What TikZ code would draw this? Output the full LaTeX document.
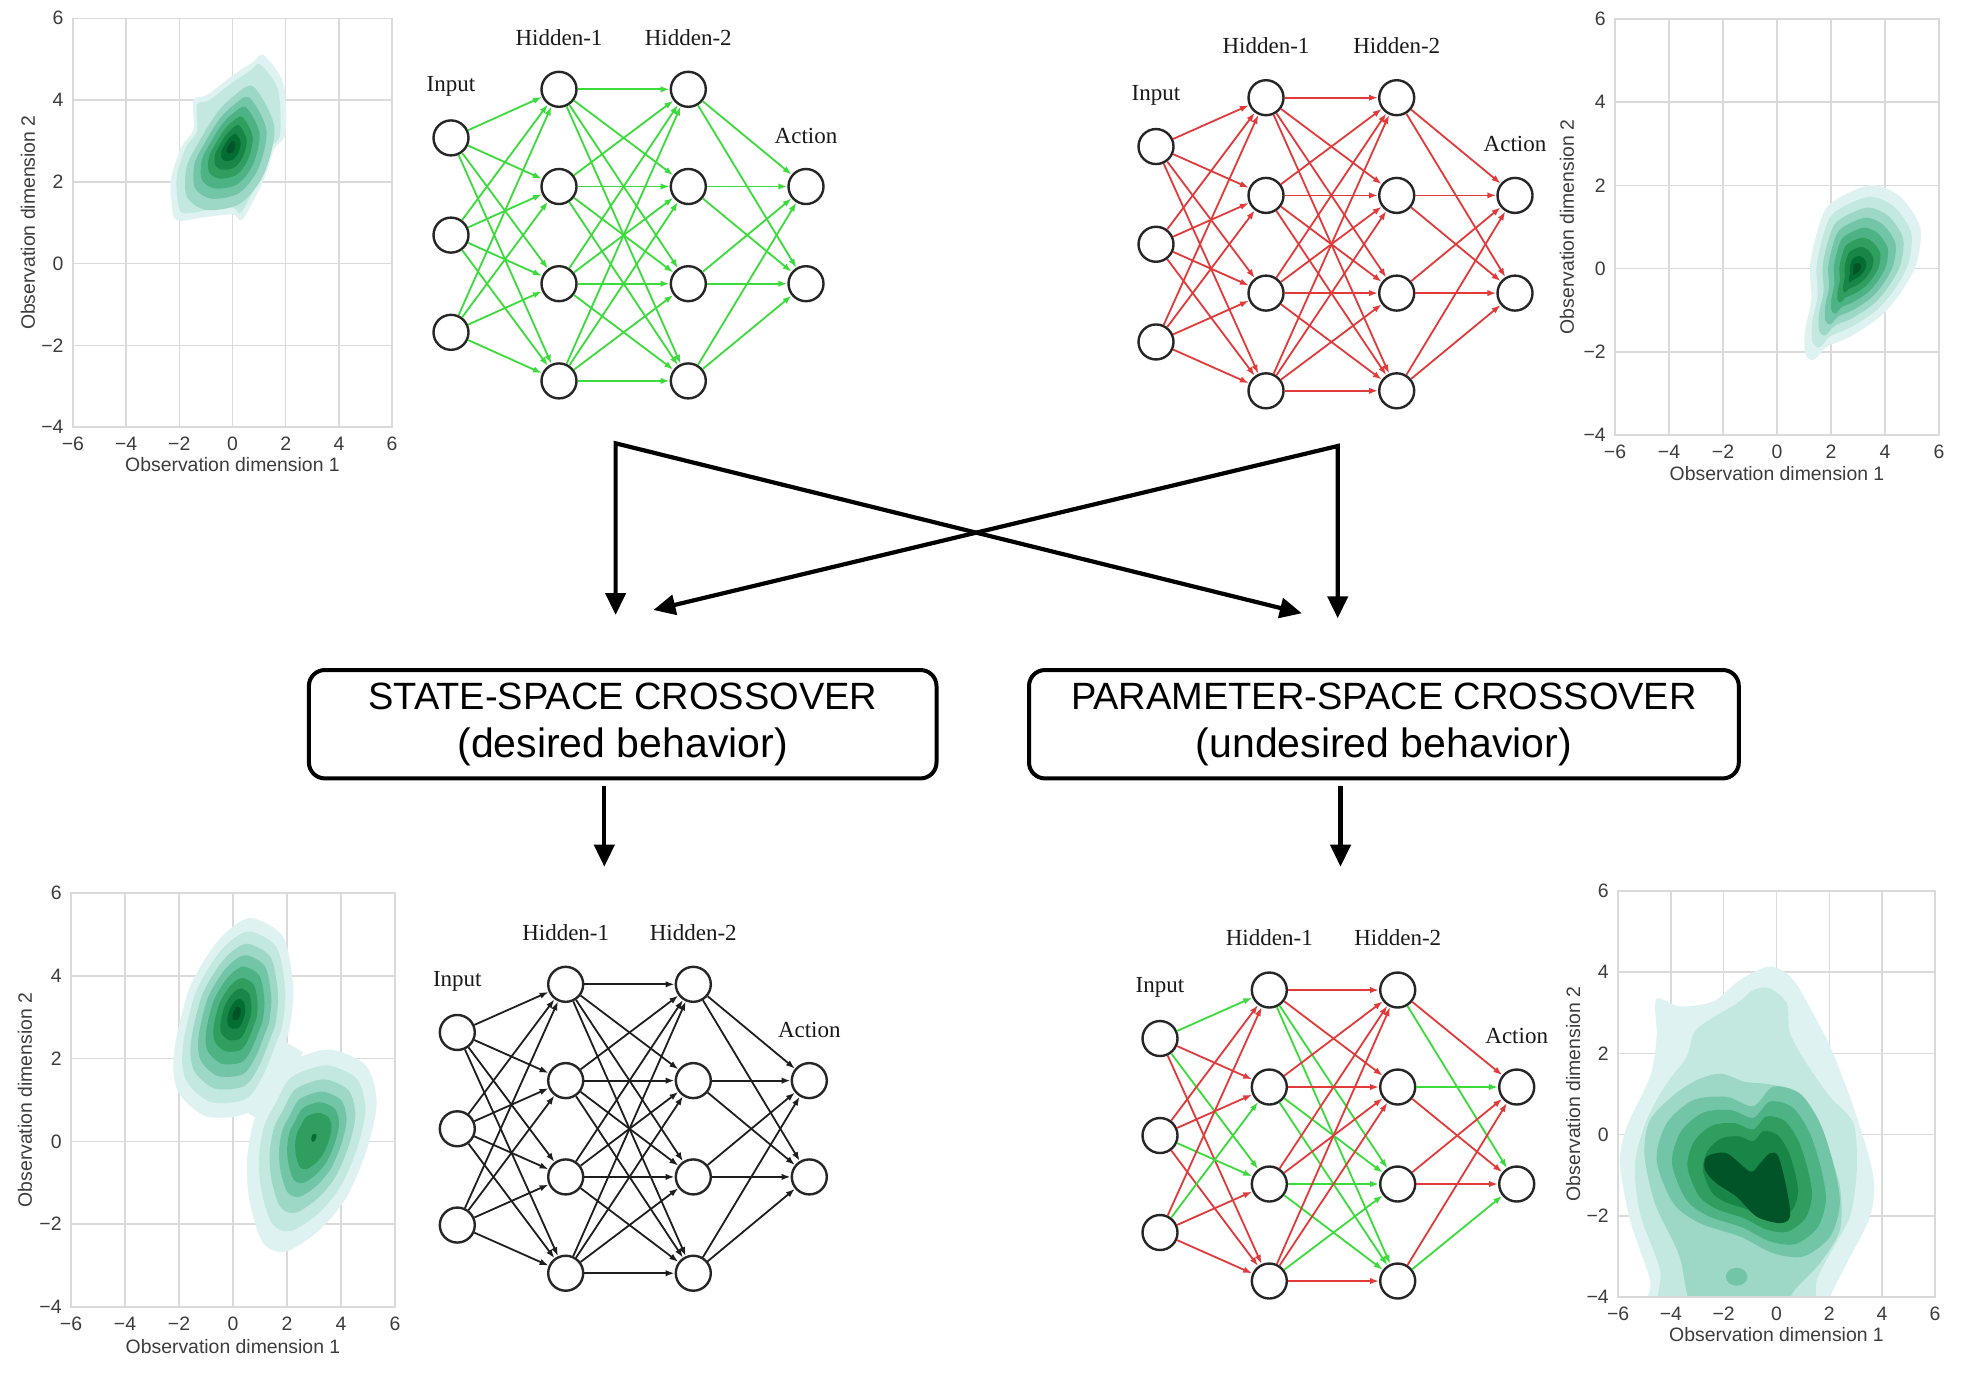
\documentclass[tikz,border=0pt]{standalone}
\usepackage{fontspec}
\setmainfont{Liberation Serif}
\newfontfamily\arialf{Liberation Sans}
\usetikzlibrary{arrows.meta}
\definecolor{k1}{HTML}{DFF2F2}
\definecolor{k2}{HTML}{C3E8DF}
\definecolor{k3}{HTML}{9DD7C6}
\definecolor{k4}{HTML}{73C5A8}
\definecolor{k5}{HTML}{4DB384}
\definecolor{k6}{HTML}{2F9E5F}
\definecolor{k7}{HTML}{178646}
\definecolor{k8}{HTML}{036E32}
\definecolor{k9}{HTML}{005427}
\definecolor{gridc}{HTML}{DADADA}
\definecolor{axtext}{HTML}{3C3C3C}
\definecolor{eg}{HTML}{3ADB3A}
\definecolor{er}{HTML}{E23A3A}
\definecolor{ek}{HTML}{1E1E1E}
\tikzset{
  gridline/.style={draw=gridc, line width=0.75pt},
  ticklbl/.style={font=\arialf\fontsize{9.7}{11}\selectfont, text=axtext, inner sep=0pt},
  axlbl/.style={font=\arialf\fontsize{9.7}{11}\selectfont, text=axtext, inner sep=0pt},
  neuron/.style={circle, draw=black!85, line width=1.2pt, fill=white, minimum size=17.5pt, inner sep=0pt},
  netlbl/.style={font=\fontsize{11.5}{13}\selectfont, text=black!90, inner sep=0pt},
  edge/.style={line width=0.9pt, -{Latex[length=4.5pt,width=3.2pt]}},
  bigarrow/.style={line width=2.1pt, line join=miter, {Triangle[length=11pt,width=10pt]}-{Triangle[length=11pt,width=10pt]}},
  downarrow/.style={line width=2.1pt, -{Triangle[length=11pt,width=10pt]}},
  crossbox/.style={draw, line width=2pt, rounded corners=8pt, align=center, inner sep=0pt,
    font=\arialf\fontsize{19}{24.2}\selectfont},
}
\newcommand\plotgrid{%
  \foreach \g in {-4,-2,0,2,4} \draw[gridline] (\g,-4) -- (\g,6);
  \foreach \g in {-2,0,2,4} \draw[gridline] (-6,\g) -- (6,\g);
}
\newcommand\plotframe[3]{%
  \draw[gridline] (-6,-4) rectangle (6,6);
  \foreach \v/\t [count=\k] in {-6/−6,-4/−4,-2/−2,0/0,2/2,4/4,6/6}
    \node[ticklbl] (#1x\k) at ([yshift=-8.3pt]\v,-4) {\t};
  \foreach \v/\t [count=\k] in {-4/−4,-2/−2,0/0,2/2,4/4,6/6}
    \node[ticklbl, anchor=east] (#1y\k) at ([xshift=-4.5pt]-6,\v) {\t};
  \node[axlbl] (#1xl) at ([yshift=-#2]0,-4) {Observation dimension 1};
  \node[axlbl, rotate=90] (#1yl) at ([xshift=-#3]-6,1) {Observation dimension 2};
}
\newcommand\kde[4]{%
  \foreach \ks/\kc in {#3}
    \fill[fill=\kc, shift={(#1,#2)}, scale=\ks, shift={({-1*(#1)},{-1*(#2)})}]
      plot[smooth cycle] coordinates {#4};
}
\newcommand\netnodes[7]{%
  \foreach \j in {1,...,4} {
    \node[neuron] (#1h\j) at (#3, {#6+(\j-1)*#7}) {};
    \node[neuron] (#1g\j) at (#4, {#6+(\j-1)*#7}) {};
  }
  \foreach \j in {1,2,3} \node[neuron] (#1i\j) at (#2, {#6+(\j-0.5)*#7}) {};
  \foreach \j in {1,2} \node[neuron] (#1a\j) at (#5, {#6+\j*#7}) {};
  \node[netlbl] (#1li) at (#2, {#6+0.5*#7-51}) {Input};
  \node[netlbl] (#1lh) at (#3, {#6-52}) {Hidden-1};
  \node[netlbl] (#1lg) at (#4, {#6-52}) {Hidden-2};
  \node[netlbl] (#1la) at (#5, {#6+#7-51}) {Action};
}
\newcommand\netedges[2]{%
  \foreach \ea in {1,2,3} \foreach \eb in {1,...,4} \draw[edge, draw=#2] (#1i\ea) -- (#1h\eb);
  \foreach \ea in {1,...,4} \foreach \eb in {1,...,4} \draw[edge, draw=#2] (#1h\ea) -- (#1g\eb);
  \foreach \ea in {1,...,4} \foreach \eb in {1,2} \draw[edge, draw=#2] (#1g\ea) -- (#1a\eb);
}
\begin{document}
\begin{tikzpicture}[x=0.5pt,y=-0.5pt]
\useasboundingbox[fill=white] (0,0) rectangle (1968,1372);

% ---------- top-left plot ----------
\begin{scope}[shift={(232.5,263.5)}, x={(13.3pt,0pt)}, y={(0pt,20.435pt)}]
  \plotgrid
  \kde{-0.1}{2.85}{1/k1,.9/k2}
    {(1.16,5.1) (1.91,4.41) (2.0,3.19) (1.57,2.8) (1.19,2.07) (0.55,1.25) (0.3,1.05) (0.02,1.2) (-0.97,1.14) (-2.1,1.06) (-2.3,1.55) (-2.3,2.12) (-1.92,2.86) (-1.47,3.27) (-1.47,4.0) (-0.97,4.12) (0.02,4.61) (0.77,4.93)}
  \kde{-0.05}{2.85}{1/k3,.82/k4,.66/k5,.5/k6,.36/k7,.22/k8,.1/k9}
    {(0.78,4.33) (1.57,3.35) (1.19,2.2) (0.3,1.47) (-0.97,1.31) (-1.72,1.64) (-1.72,2.37) (-1.22,3.02) (-0.6,3.67) (0.02,4.08)}
  \plotframe{TL}{19pt}{22.5pt}
\end{scope}

% ---------- top-right plot ----------
\begin{scope}[shift={(1777,268.6)}, x={(13.5pt,0pt)}, y={(0pt,20.8pt)}]
  \plotgrid
  \kde{2.95}{0.0}{1/k1,.86/k2,.73/k3,.61/k4,.49/k5,.37/k6,.26/k7,.15/k8,.07/k9}
    {(3.57,2.01) (4.56,1.73) (5.3,1.0) (5.17,0.13) (4.56,-0.6) (3.81,-1.16) (2.7,-1.64) (1.84,-1.88) (1.35,-2.2) (1.04,-2.04) (1.04,-1.48) (1.27,-0.75) (1.22,0.05) (1.47,0.85) (1.84,1.47) (2.58,1.8)}
  \plotframe{TR}{19.5pt}{24pt}
\end{scope}

% ---------- bottom-left plot ----------
\begin{scope}[shift={(233,1141.4)}, x={(13.5pt,0pt)}, y={(0pt,20.7pt)}]
  \plotgrid
  \kde{0.14}{3.1}{1/k1}
    {(0.75,5.39) (1.86,4.94) (2.23,3.74) (2.11,2.78) (1.86,2.3) (1.25,1.32) (0.51,0.68) (-0.97,0.6) (-1.96,1.12) (-2.21,1.72) (-2.09,2.53) (-1.59,3.74) (-0.73,4.7) (0,5.19)}
  \kde{3.0}{0.1}{1/k1}
    {(3.72,2.21) (4.95,1.81) (5.32,0.92) (4.95,-0.21) (4.21,-1.34) (3.22,-2.13) (1.97,-2.66) (1.12,-2.46) (0.63,-1.5) (0.51,-0.53) (0.75,0.44) (1.25,1.08) (1.86,1.8) (2.73,2.1)}
  \fill[k1] (1.7,2.5) -- (2.6,2.15) -- (1.0,0.5) -- (0.3,0.8) -- cycle;
  \kde{0.14}{3.1}{.86/k2,.73/k3,.61/k4,.49/k5,.37/k6,.26/k7,.15/k8,.07/k9}
    {(0.75,5.39) (1.86,4.94) (2.23,3.74) (2.11,2.78) (1.86,2.3) (1.25,1.32) (0.51,0.68) (-0.97,0.6) (-1.96,1.12) (-2.21,1.72) (-2.09,2.53) (-1.59,3.74) (-0.73,4.7) (0,5.19)}
  \kde{3.0}{0.1}{.82/k2,.66/k3,.52/k4,.4/k5,.28/k6,.04/k8}
    {(3.72,2.21) (4.95,1.81) (5.32,0.92) (4.95,-0.21) (4.21,-1.34) (3.22,-2.13) (1.97,-2.66) (1.12,-2.46) (0.63,-1.5) (0.51,-0.53) (0.75,0.44) (1.25,1.08) (1.86,1.8) (2.73,2.1)}
  \plotframe{BL}{20pt}{23pt}
\end{scope}

% ---------- bottom-right plot ----------
\begin{scope}[shift={(1776.5,1134.6)}, x={(13.2pt,0pt)}, y={(0pt,20.3pt)}]
  \plotgrid
  \begin{scope}
    \clip (-6,-4) rectangle (6,6);
    \fill[k1] plot[smooth cycle] coordinates {(-4.48,3.36) (-3.66,3.16) (-2.39,3.28) (-1.38,3.81) (-0.25,4.14) (0.64,3.81) (1.52,2.82) (2.15,2.0) (3.04,0.44) (3.67,-1.04) (3.54,-2.02) (2.66,-3.17) (2.03,-4.0) (1.9,-4.6) (-4.54,-4.6) (-4.79,-3.58) (-5.55,-2.1) (-5.93,-0.7) (-5.67,0.2) (-4.79,1.43) (-4.54,2.41) (-4.6,3.1)};
    \fill[k2] plot[smooth cycle] coordinates {(-3.4,1.92) (-3.02,2.6) (-1.51,3.23) (-0.88,3.56) (-0.25,3.6) (0.39,3.23) (0.51,2.5) (1.14,1.75) (2.03,0.93) (2.91,0.28) (3.04,-0.87) (2.78,-2.02) (2.03,-2.92) (1.52,-3.58) (1.0,-4.6) (-4.16,-4.6) (-4.41,-3.33) (-5.17,-1.94) (-5.36,-0.71) (-4.92,0.36) (-4.16,1.26)};
    \fill[k3] plot[smooth cycle] coordinates {(-5.0,-0.5) (-4.8,0.35) (-3.9,0.97) (-3.0,1.35) (-2.1,1.5) (-1.2,1.3) (-0.4,1.25) (0.5,1.1) (1.3,0.5) (1.9,-0.3) (2.4,-1.28) (2.4,-2.35) (1.6,-3.2) (0.6,-3.9) (0.2,-4.6) (-2.9,-4.6) (-3.7,-2.95) (-4.6,-1.7)};
    \fill[k4] (-1.51,-3.5) ellipse [x radius=0.41, y radius=0.22];
    \kde{-0.9}{-1.1}{1/k4,.84/k5,.68/k6,.52/k7}
      {(-4.54,-0.63) (-4.16,0.28) (-3.15,0.85) (-1.89,0.93) (-0.88,0.7) (-0.13,1.18) (0.89,1.01) (1.65,0.28) (2.15,-0.71) (2.4,-1.69) (2.03,-2.51) (1.02,-3.0) (-0.13,-2.92) (-1.38,-2.51) (-2.9,-2.18) (-3.91,-1.69)}
    \fill[k9] plot[smooth cycle] coordinates {(-2.64,-0.54) (-1.89,-0.46) (-1.0,-0.91) (-0.63,-0.71) (-0.25,-0.46) (0.07,-0.54) (0.39,-1.36) (0.51,-2.02) (0.13,-2.18) (-0.75,-2.02) (-1.51,-1.53) (-2.27,-1.2) (-2.71,-0.87)};
  \end{scope}
  \plotframe{BR}{19pt}{22.5pt}
\end{scope}

% ---------- networks ----------
\netnodes{A}{451}{559}{688.3}{806}{89.3}{97.2}
\netedges{A}{eg}
\netnodes{B}{1156}{1266}{1396.7}{1515}{97.7}{97.7}
\netedges{B}{er}
\netnodes{C}{457.3}{565.7}{693.3}{809.3}{984.3}{96.3}
\netedges{C}{ek}
\netnodes{D}{1160}{1269.3}{1397.7}{1516.7}{990}{97}
\foreach \ea/\eb/\ec in {1/1/eg,1/2/er,1/3/eg,1/4/er,2/1/er,2/2/er,2/3/eg,2/4/er,3/1/er,3/2/eg,3/3/er,3/4/er}
  \draw[edge, draw=\ec] (Di\ea) -- (Dh\eb);
\foreach \ea/\eb/\ec in {1/1/er,1/2/er,1/3/eg,1/4/eg,2/1/er,2/2/er,2/3/eg,2/4/eg,3/1/er,3/2/er,3/3/eg,3/4/eg,4/1/er,4/2/er,4/3/eg,4/4/er}
  \draw[edge, draw=\ec] (Dh\ea) -- (Dg\eb);
\foreach \ea/\eb/\ec in {1/1/er,1/2/eg,2/1/eg,2/2/er,3/1/er,3/2/er,4/1/er,4/2/eg}
  \draw[edge, draw=\ec] (Dg\ea) -- (Da\eb);

% ---------- crossing arrows ----------
\coordinate (lt) at (615.6,443.3);
\coordinate (lv) at (615.6,615);
\coordinate (ld) at (1301.8,613.3);
\coordinate (rt) at (1337.7,446);
\coordinate (rv) at (1337.7,618.3);
\coordinate (rd) at (653.4,610);
\draw[bigarrow] (lv) -- (lt) -- (ld);
\draw[bigarrow] (rv) -- (rt) -- (rd);

% ---------- boxes ----------
\node[crossbox, minimum width=313.8pt, minimum height=54.2pt] (ssc) at (622.7,724.2)
  {STATE-SPACE CROSSOVER\\{\fontsize{20.5}{24.2}\selectfont (desired behavior)}};
\node[crossbox, minimum width=354.9pt, minimum height=54.2pt] (psc) at (1383.9,724.2)
  {PARAMETER-SPACE CROSSOVER\\{\fontsize{20.5}{24.2}\selectfont (undesired behavior)}};

\coordinate (lb1) at (604.3,786);
\coordinate (lb2) at (604.3,866.7);
\coordinate (rb1) at (1340.5,786);
\coordinate (rb2) at (1340.5,866.7);
\draw[downarrow] (lb1) -- (lb2);
\draw[downarrow] (rb1) -- (rb2);
\end{tikzpicture}
\end{document}
